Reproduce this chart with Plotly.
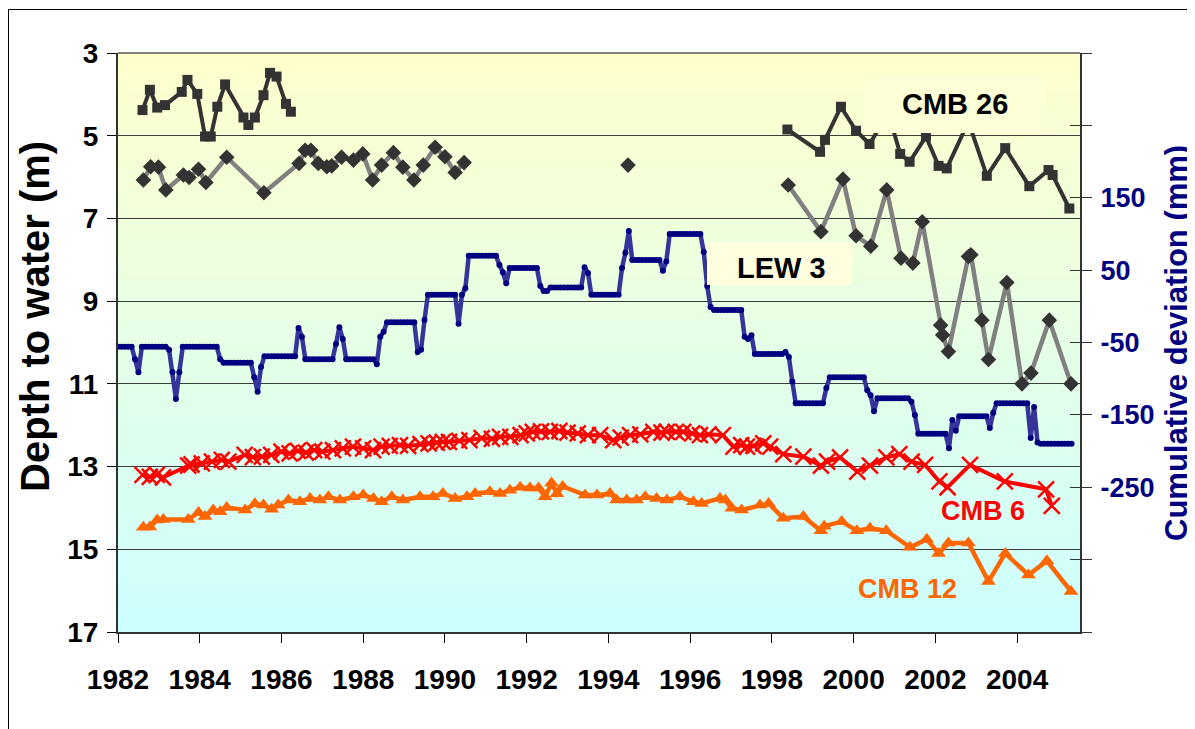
import plotly.graph_objects as go

# ---------------- data ----------------
# CMB 26 (dark squares) depth to water (m); None = gap
cmb26_year = [1982.60, 1982.78, 1982.96, 1983.15, 1983.56, 1983.70, 1983.94, 1984.13, 1984.27,
              1984.43, 1984.62, 1985.07, 1985.19, 1985.35, 1985.56, 1985.72, 1985.88, 1986.11, 1986.23,
              None,
              1998.38, 1999.18, 1999.30, 1999.69, 2000.06, 2000.39, 2000.85, 2001.14, 2001.37, 2001.77,
              2002.08, 2002.28, 2002.81, 2003.26, 2003.71, 2004.30, 2004.77, 2004.87, 2005.28]
cmb26_depth = [4.38, 3.89, 4.32, 4.26, 3.94, 3.65, 3.99, 5.02, 5.02,
               4.30, 3.76, 4.56, 4.74, 4.56, 4.02, 3.48, 3.57, 4.23, 4.42,
               None,
               4.85, 5.39, 5.10, 4.30, 4.88, 5.20, 4.45, 5.44, 5.63, 5.02,
               5.73, 5.79, 4.66, 5.97, 5.30, 6.22, 5.83, 5.95, 6.76]

# grey series (diamonds)
grey_year = [1982.62, 1982.80, 1982.99, 1983.17, 1983.60, 1983.74, 1983.97, 1984.15, 1984.66,
             1985.57, 1986.43, 1986.58, 1986.72, 1986.90, 1987.11, 1987.23, 1987.47, 1987.76,
             1987.99, 1988.23, 1988.45, 1988.74, 1988.97, 1989.24, 1989.47, 1989.76, 1990.00,
             1990.25, 1990.47,
             None, 1994.48, None,
             1998.40, 1999.20, 1999.74, 2000.06, 2000.42, 2000.81, 2001.16, 2001.45, 2001.68,
             2002.13, 2002.18, 2002.32, 2002.81, 2002.87, 2003.14, 2003.30, 2003.75, 2004.12,
             2004.34, 2004.79, 2005.32]
grey_depth = [6.07, 5.75, 5.76, 6.31, 5.95, 6.01, 5.81, 6.13, 5.52,
              6.38, 5.67, 5.35, 5.35, 5.67, 5.75, 5.73, 5.52, 5.59,
              5.44, 6.07, 5.71, 5.41, 5.76, 6.07, 5.71, 5.28, 5.51,
              5.89, 5.65,
              None, 5.71, None,
              6.19, 7.32, 6.05, 7.42, 7.67, 6.31, 7.96, 8.08, 7.08,
              9.58, 9.82, 10.22, 7.92, 7.88, 9.46, 10.41, 8.55, 11.00,
              10.74, 9.46, 11.00]

# LEW 3 cumulative deviation (mm), monthly from Jan 1982: level and number of months
lew3_levels = [-56, -73, -91, -56, -60, -91, -128, -91, -56, -73, -78, -98, -118, -84, -69, -30, -42,
               -73, -52, -29, -45, -73, -80, -42, -35, -22, -63, -60, -19, 16, -24, 16, 25, 70, 57,
               47, 32, 53, 28, 21, 26, 54, 46, 16, 53, 74, 104, 64, 49, 62, 100, 75, 28, -1, -5,
               -42, -45, -40, -66, -63, -70, -104, -134, -113, -98, -116, -123, -145, -127, -132,
               -150, -176, -196, -157, -172, -152, -168, -147, -134, -182, -139, -188, -190]
lew3_months = [5, 1, 1, 8, 1, 1, 1, 1, 11, 1, 9, 1, 1, 1, 10, 1, 1,
               9, 1, 1, 1, 9, 1, 1, 1, 9, 1, 1, 1, 9, 1, 1, 1, 9, 1,
               1, 1, 9, 1, 2, 10, 1, 1, 9, 1, 1, 1, 9, 1, 1, 10, 1, 1, 1, 9,
               1, 1, 1, 9, 1, 1, 1, 9, 1, 11, 1, 1, 1, 10, 1,
               1, 9, 1, 1, 1, 9, 1, 1, 10, 1, 1, 1, 10]

# CMB 6 (red crosses)
cmb6_year = [1982.60, 1982.78, 1982.95, 1983.10, 1983.72, 1983.80, 1984.05, 1984.30, 1984.54, 1984.70,
             1985.10, 1985.30, 1985.52, 1985.75, 1986.00, 1986.20, 1986.40, 1986.60, 1986.80, 1987.00,
             1987.26, 1987.50, 1987.75, 1988.00, 1988.24, 1988.45, 1988.65, 1988.90, 1989.10, 1989.40,
             1989.60, 1989.80, 1989.95, 1990.10, 1990.35, 1990.60, 1990.90, 1991.15, 1991.35, 1991.60,
             1991.85, 1992.00, 1992.15, 1992.35, 1992.57, 1992.80, 1993.00, 1993.25, 1993.50, 1993.80,
             1994.12, 1994.30, 1994.53, 1994.78, 1995.10, 1995.30, 1995.43, 1995.65, 1995.83, 1996.05,
             1996.24, 1996.45, 1996.80, 1997.06, 1997.25, 1997.39, 1997.55, 1997.79, 1997.96, 1998.28,
             1998.77, 1999.20, 1999.35, 1999.67, 2000.09, 2000.40, 2000.80, 2001.12, 2001.42, 2001.75,
             2002.10, 2002.30, 2002.85, 2003.70, 2004.71, 2004.85]
cmb6_depth = [13.20, 13.25, 13.20, 13.26, 12.98, 12.95, 12.92, 12.88, 12.84, 12.88,
              12.72, 12.77, 12.76, 12.72, 12.64, 12.68, 12.62, 12.66, 12.60, 12.64,
              12.60, 12.56, 12.52, 12.56, 12.60, 12.52, 12.50, 12.48, 12.50, 12.46,
              12.44, 12.42, 12.40, 12.40, 12.38, 12.36, 12.31, 12.33, 12.28, 12.28,
              12.24, 12.20, 12.16, 12.15, 12.16, 12.14, 12.18, 12.20, 12.24, 12.24,
              12.36, 12.30, 12.24, 12.22, 12.16, 12.18, 12.16, 12.16, 12.16, 12.20,
              12.24, 12.22, 12.24, 12.52, 12.48, 12.52, 12.50, 12.44, 12.52, 12.70,
              12.76, 12.98, 12.88, 12.78, 13.12, 12.98, 12.78, 12.70, 12.88, 12.96,
              13.36, 13.50, 12.96, 13.36, 13.55, 13.95]

# CMB 12 (orange triangles)
cmb12_year = [1982.62, 1982.78, 1982.96, 1983.11, 1983.72, 1983.97, 1984.13, 1984.33, 1984.50, 1984.66,
              1985.11, 1985.35, 1985.56, 1985.76, 1985.92, 1986.17, 1986.45, 1986.70, 1986.94, 1987.15,
              1987.43, 1987.76, 1988.00, 1988.25, 1988.45, 1988.70, 1988.97, 1989.39, 1989.71, 1989.95,
              1990.25, 1990.54, 1990.74, 1991.10, 1991.35, 1991.59, 1991.84, 1992.08, 1992.29, 1992.45,
              1992.61, 1992.74, 1992.88, 1993.43, 1993.72, 1994.04, 1994.20, 1994.45, 1994.69, 1994.90,
              1995.18, 1995.43, 1995.75, 1996.08, 1996.28, 1996.73, 1996.86, 1997.02, 1997.26, 1997.71,
              1997.92, 1998.28, 1998.77, 1999.20, 1999.28, 1999.71, 2000.08, 2000.40, 2000.80, 2001.38,
              2001.79, 2002.08, 2002.32, 2002.81, 2003.30, 2003.71, 2004.28, 2004.73, 2005.32]
cmb12_depth = [14.47, 14.46, 14.29, 14.28, 14.28, 14.11, 14.21, 14.05, 14.09, 13.99,
               14.05, 13.90, 13.93, 14.03, 13.93, 13.81, 13.85, 13.77, 13.81, 13.73,
               13.81, 13.73, 13.69, 13.77, 13.85, 13.73, 13.81, 13.73, 13.73, 13.65,
               13.77, 13.73, 13.65, 13.61, 13.65, 13.57, 13.50, 13.52, 13.52, 13.73,
               13.40, 13.66, 13.48, 13.69, 13.69, 13.65, 13.81, 13.81, 13.81, 13.73,
               13.77, 13.81, 13.73, 13.85, 13.89, 13.77, 13.81, 14.01, 14.05, 13.93,
               13.89, 14.25, 14.21, 14.55, 14.44, 14.33, 14.55, 14.49, 14.55, 14.95,
               14.76, 15.10, 14.85, 14.85, 15.78, 15.10, 15.62, 15.28, 16.02]

depth_ticks = [3, 5, 7, 9, 11, 13, 15, 17]
year_ticks = [1982, 1984, 1986, 1988, 1990, 1992, 1994, 1996, 1998, 2000, 2002, 2004]
dev_ticks = [350, 250, 150, 50, -50, -150, -250, -350, -450]
dev_labels = ["", "", "150", "50", "-50", "-150", "-250", "", ""]

# ---------------- build ----------------
lew3_vals = []
for lv, n in zip(lew3_levels, lew3_months):
    lew3_vals.extend([lv] * n)
lew3_year = [1982 + i / 12 for i in range(len(lew3_vals))]

# the page adds an 8px body margin, so the figure is 8px smaller than the window
OFF = 8
W, H = 1195 - OFF, 729 - OFF
L, R, T, B = 118, 1080, 53, 632          # plot area in window pixels
def px(x):
    return (x - L) / (R - L)
def py(y):
    return (B - y) / (B - T)

FONT = "Liberation Sans, Arial, sans-serif"
NAVY = "#000080"

fig = go.Figure()

fig.add_trace(go.Scatter(x=lew3_year, y=lew3_vals, yaxis="y2", mode="lines+markers",
                         line=dict(color="#34349A", width=4.5),
                         marker=dict(color=NAVY, size=6, symbol="circle"),
                         name="LEW 3", showlegend=False))
fig.add_trace(go.Scatter(x=grey_year, y=grey_depth, mode="lines+markers", connectgaps=False,
                         line=dict(color="#808080", width=4.5),
                         marker=dict(color="#333333", size=12, symbol="diamond"),
                         showlegend=False))
fig.add_trace(go.Scatter(x=cmb26_year, y=cmb26_depth, mode="lines+markers", connectgaps=False,
                         line=dict(color="#333333", width=4),
                         marker=dict(color="#333333", size=10, symbol="square"),
                         name="CMB 26", showlegend=False))
fig.add_trace(go.Scatter(x=cmb12_year, y=cmb12_depth, mode="lines+markers",
                         line=dict(color="#FF6600", width=4.5),
                         marker=dict(color="#FF6600", size=13, symbol="triangle-up"),
                         name="CMB 12", showlegend=False))
fig.add_trace(go.Scatter(x=cmb6_year, y=cmb6_depth, mode="lines+markers",
                         line=dict(color="#FF0000", width=4),
                         marker=dict(color="#FF0000", size=16, symbol="x-thin",
                                     line=dict(color="#FF0000", width=2.5)),
                         name="CMB 6", showlegend=False))

# gradient background bands
shapes = []
NB = 60
for k in range(NB):
    f = (k + 0.5) / NB  # 0 bottom -> 1 top
    r = int(round(204 + 51 * f))
    b = int(round(255 - 51 * f))
    shapes.append(dict(type="rect", xref="x domain", yref="y domain", x0=0, x1=1,
                       y0=k / NB, y1=(k + 1) / NB + 0.002, line=dict(width=0),
                       fillcolor=f"rgb({r},255,{b})", layer="below"))
# label boxes
shapes.append(dict(type="rect", xref="paper", yref="paper", x0=px(865), x1=px(1045),
                   y0=py(133), y1=py(78), line=dict(width=0), fillcolor="#FDFFD6", layer="above"))
shapes.append(dict(type="rect", xref="paper", yref="paper", x0=px(707), x1=px(852),
                   y0=py(285), y1=py(242), line=dict(width=0), fillcolor="#FFFFE0", layer="above"))
# plot top border
shapes.append(dict(type="line", xref="paper", yref="paper", x0=0, x1=1, y0=1, y1=1,
                   line=dict(color="#808080", width=2), layer="above"))
# outer frame
shapes.append(dict(type="line", xref="paper", yref="paper", x0=px(8.5), x1=px(1200), y0=py(9.5), y1=py(9.5),
                   line=dict(color="#000000", width=1)))
shapes.append(dict(type="line", xref="paper", yref="paper", x0=px(8.5), x1=px(8.5), y0=py(9.5), y1=py(735),
                   line=dict(color="#000000", width=1)))

def ann(text, x, y, size, color, angle=0):
    return dict(text=f"<b>{text}</b>", x=px(x), y=py(y), xref="paper", yref="paper",
                xanchor="center", yanchor="middle", showarrow=False, textangle=angle,
                font=dict(family=FONT, size=size, color=color))

annotations = [
    ann("CMB 26", 955, 104, 29, "#000000"),
    ann("LEW 3", 781, 268, 29, "#000000"),
    ann("CMB 6", 983, 511, 27, "#FF0000"),
    ann("CMB 12", 907, 589, 27, "#FF6600"),
    ann("Depth to water (m)", 35, 317, 40, "#000000", -90),
    ann("Cumulative deviation (mm)", 1177, 343, 31, NAVY, -90),
]

fig.update_layout(
    width=W, height=H, autosize=False,
    margin=dict(l=L - OFF, r=(W + OFF) - R, t=T - OFF, b=(H + OFF) - B, pad=0),
    paper_bgcolor="#FFFFFF", plot_bgcolor="#CCFFFF",
    font=dict(family=FONT, size=28, color="#000000"),
    shapes=shapes, annotations=annotations,
    xaxis=dict(range=[1982, 2005.54], tickmode="array", tickvals=year_ticks,
               ticktext=[f"<b>{v}</b>" for v in year_ticks],
               ticks="outside", ticklen=9, tickwidth=1, tickcolor="#000000",
               showline=True, linecolor="#333333", linewidth=2, showgrid=False, zeroline=False,
               ticklabelstandoff=12, tickfont=dict(family=FONT, size=28, color="#000000")),
    yaxis=dict(range=[17, 3], tickmode="array", tickvals=depth_ticks,
               ticktext=[f"<b>{v}</b>" for v in depth_ticks],
               ticks="outside", ticklen=9, tickwidth=1, tickcolor="#000000",
               showline=True, linecolor="#333333", linewidth=2,
               showgrid=True, gridcolor="#3C3C3C", gridwidth=1, zeroline=False,
               ticklabelstandoff=3, tickfont=dict(family=FONT, size=28, color="#000000")),
    yaxis2=dict(range=[-450, 350], overlaying="y", side="right", tickmode="array",
                tickvals=dev_ticks, ticktext=[f"<b>{t}</b>" if t else "" for t in dev_labels],
                ticks="outside", ticklen=10, tickwidth=1, tickcolor="#333333",
                showline=True, linecolor="#333333", linewidth=2, showgrid=False, zeroline=False,
                ticklabelstandoff=3, tickfont=dict(family=FONT, size=27, color=NAVY)),
    yaxis3=dict(range=[-450, 350], overlaying="y", side="right", anchor="x", tickmode="array",
                tickvals=dev_ticks, ticktext=["" for _ in dev_ticks],
                ticks="inside", ticklen=10, tickwidth=1, tickcolor="#333333",
                showline=False, showgrid=False, zeroline=False, showticklabels=False),
)
# empty trace so that the inside-tick axis is drawn
fig.add_trace(go.Scatter(x=[None], y=[None], yaxis="y3", showlegend=False, hoverinfo="skip"))

fig.write_html("out.html")
